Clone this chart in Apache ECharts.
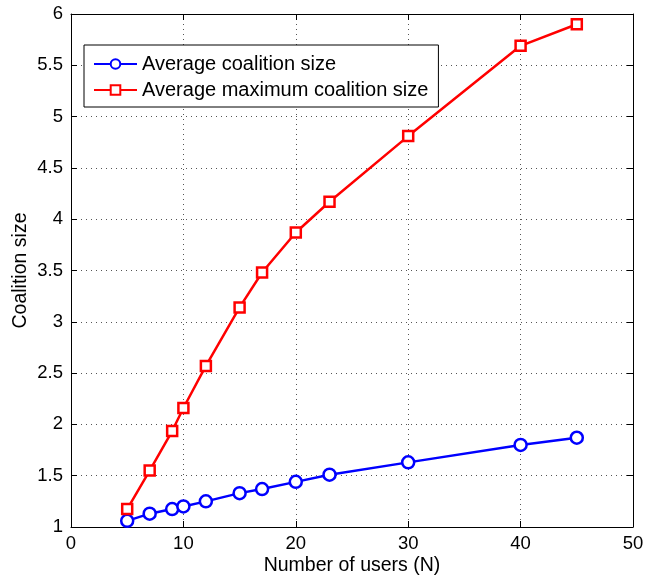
<!DOCTYPE html>
<html><head><meta charset="utf-8">
<script src="https://cdn.jsdelivr.net/npm/echarts@6/dist/echarts.min.js"></script>
<style>html,body{margin:0;padding:0;background:#fff}#c{width:661px;height:578px}</style>
</head><body><div id="c"></div>
<script>
const users = [5, 7, 9, 10, 12, 15, 17, 20, 23, 30, 40, 45];
const avgSize = [1.06, 1.13, 1.175, 1.2, 1.25, 1.33, 1.37, 1.44, 1.51, 1.63, 1.8, 1.87];
const avgMaxSize = [1.175, 1.55, 1.935, 2.16, 2.57, 3.14, 3.48, 3.87, 4.17, 4.81, 5.69, 5.9];
const seriesNames = ['Average coalition size', 'Average maximum coalition size'];
const xTitle = 'Number of users (N)';
const yTitle = 'Coalition size';

const font = 'Liberation Sans, Arial, Helvetica, sans-serif';
const chart = echarts.init(document.getElementById('c'));
const pair = (xs, ys) => xs.map((x, i) => [x, ys[i]]);
const axisCommon = {
  axisLine: {show: true, onZero: false, lineStyle: {color: '#000', width: 1}},
  axisTick: {show: true, inside: true, length: 6, lineStyle: {color: '#000'}},
};
const grid = {show: true, lineStyle: {color: '#555', type: [1, 4], width: 1}};
chart.setOption({
  animation: false,
  backgroundColor: '#fff',
  grid: {left: 71, right: 28, top: 14, bottom: 51, containLabel: false, outerBoundsMode: 'none'},
  legend: {
    left: 84, top: 45, orient: 'vertical',
    backgroundColor: '#fff', borderColor: '#000', borderWidth: 1,
    padding: [9, 10, 7, 9], itemGap: 6, itemWidth: 43, itemHeight: 12,
    textStyle: {fontFamily: font, fontSize: 20, color: '#000'},
    data: seriesNames
  },
  xAxis: [
    Object.assign({type: 'value', min: 0, max: 50, interval: 10, position: 'bottom',
      name: xTitle, nameLocation: 'middle', nameGap: 29, nameMoveOverlap: false,
      nameTextStyle: {fontFamily: font, fontSize: 19.5, color: '#000'},
      axisLabel: {fontFamily: font, fontSize: 18.5, color: '#000', margin: 7},
      splitLine: grid}, axisCommon),
    Object.assign({type: 'value', min: 0, max: 50, interval: 10, position: 'top',
      axisLabel: {show: false}, splitLine: {show: false}}, axisCommon)
  ],
  yAxis: [
    Object.assign({type: 'value', min: 1, max: 6, interval: 0.5, position: 'left',
      name: yTitle, nameLocation: 'middle', nameGap: 40, nameMoveOverlap: false,
      nameTextStyle: {fontFamily: font, fontSize: 19.5, color: '#000'},
      axisLabel: {fontFamily: font, fontSize: 18.5, color: '#000', margin: 8},
      splitLine: grid}, axisCommon),
    Object.assign({type: 'value', min: 1, max: 6, interval: 0.5, position: 'right',
      axisLabel: {show: false}, splitLine: {show: false}}, axisCommon)
  ],
  series: [
    {name: seriesNames[0], type: 'line', data: pair(users, avgSize),
      symbol: 'circle', symbolSize: 12, showAllSymbol: true,
      lineStyle: {color: '#0000ff', width: 2.5}, itemStyle: {color: '#fff', borderColor: '#0000ff', borderWidth: 2.5}},
    {name: seriesNames[1], type: 'line', data: pair(users, avgMaxSize),
      symbol: 'rect', symbolSize: 10, showAllSymbol: true,
      lineStyle: {color: '#ff0000', width: 2.5}, itemStyle: {color: '#fff', borderColor: '#ff0000', borderWidth: 2.5}}
  ]
});
</script></body></html>
